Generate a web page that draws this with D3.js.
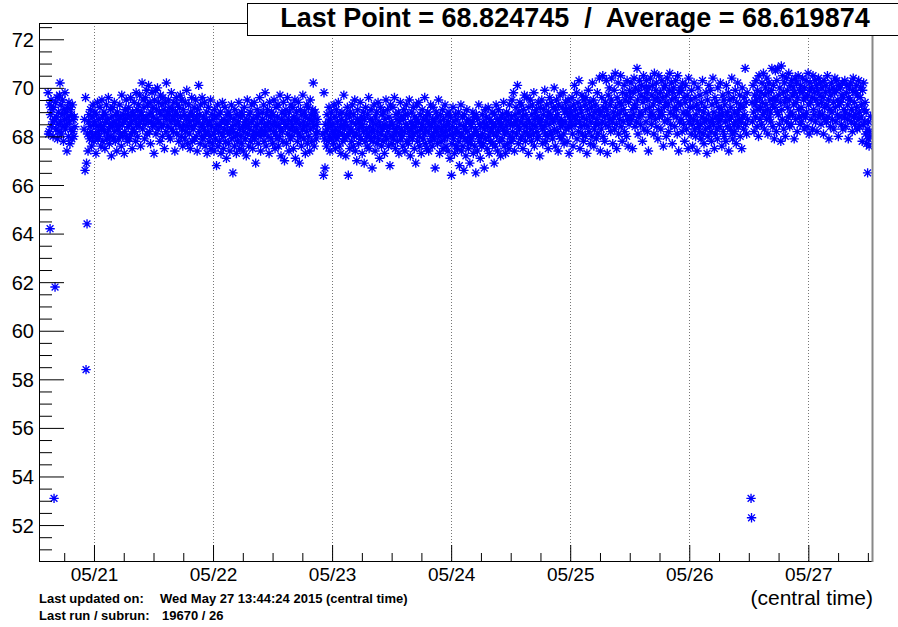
<!DOCTYPE html>
<html><head><meta charset="utf-8">
<script src="https://cdn.jsdelivr.net/npm/d3@7"></script>
<style>
html,body{margin:0;padding:0;background:#fff;}
svg{display:block;font-family:"Liberation Sans",Arial,Helvetica,sans-serif;}
</style></head><body>
<svg id="chart" width="898" height="627"></svg>
<script>
// Readings are logged every 6 minutes; each run of readings has its own start time (central time).
const stepMinutes = 6;
const segmentStarts = ["2015-05-20T14:45", "2015-05-20T22:00", "2015-05-22T22:10", "2015-05-26T12:27"];

const segA = [
69.8,68.1,68.2,69.3,64.2,68.9,69.5,68.4,69.1,68.6,
68.0,69.2,53.1,68.7,61.8,69.4,68.3,68.8,69.6,67.9,
68.5,69.0,68.2,69.7,70.2,68.6,69.3,68.1,68.9,69.5,
68.4,67.8,69.1,68.7,69.8,68.3,69.0,68.5,67.4,69.2,
68.8,68.0,69.4,68.6,67.7,69.1,68.3,68.9,67.9,69.3,
68.2,68.7,68.0,68.8,68.4];

const segB = [
68.3,68.7,66.6,69.6,58.4,66.9,64.4,68.1,67.4,68.6,
68.9,67.9,68.4,69.1,68.2,67.6,68.8,68.0,69.3,68.5,
67.8,68.6,69.0,68.1,67.3,68.9,68.4,69.4,67.9,68.2,
68.7,68.0,69.2,68.5,67.6,68.3,69.5,68.8,67.8,68.4,
69.0,68.2,67.5,68.9,68.6,69.3,67.9,68.1,68.7,69.6,
68.3,67.7,68.5,69.1,68.0,67.2,68.8,68.4,69.2,67.9,
68.6,69.4,68.2,67.8,68.9,68.5,67.4,69.0,68.3,68.7,
67.9,68.4,69.3,68.1,68.8,67.6,69.7,68.5,68.0,68.9,
68.6,67.3,68.2,69.1,68.7,69.5,68.0,67.8,68.9,68.4,
69.2,68.5,67.9,68.8,69.6,68.1,68.6,67.5,69.0,68.3,
68.9,69.4,68.2,68.7,67.8,69.8,68.5,69.1,68.0,68.8,
69.3,68.4,69.7,68.6,67.6,69.0,68.9,70.2,68.3,69.5,
68.7,69.2,67.9,68.5,69.6,68.8,69.9,68.1,69.3,68.6,
70.1,68.9,68.2,69.4,67.7,69.0,68.6,69.8,68.4,69.2,
68.8,67.3,69.5,68.5,69.9,68.1,69.1,68.7,70.0,68.3,
69.4,68.6,69.0,67.8,69.7,68.9,68.4,69.3,68.0,69.6,
68.5,69.1,67.5,68.8,69.4,68.2,70.2,68.7,69.0,68.4,
69.5,68.0,68.9,69.2,67.9,68.6,69.8,68.3,69.1,68.8,
68.2,69.4,68.7,67.4,69.0,68.5,69.6,68.1,68.9,69.3,
68.6,67.8,69.2,68.4,69.7,68.8,68.0,69.5,68.3,67.6,
69.1,68.5,68.9,67.9,69.4,68.2,68.7,69.9,68.4,67.7,
68.8,69.3,68.1,68.6,67.5,69.0,68.4,69.6,67.8,68.9,
68.3,68.7,69.2,67.9,68.5,69.5,68.0,68.8,67.4,69.1,
68.6,70.1,68.2,68.9,67.7,69.3,68.4,68.0,69.6,68.5,
67.9,68.8,68.3,69.4,67.6,68.1,68.7,69.0,67.3,68.5,
68.2,69.2,67.8,68.6,68.0,69.5,67.5,68.4,68.9,67.7,
68.7,68.1,67.4,69.1,68.3,67.9,68.8,66.8,68.5,69.3,
67.6,68.2,68.9,67.8,68.4,69.0,67.3,68.6,68.1,69.4,
68.0,67.5,68.7,68.3,69.2,67.8,68.5,67.1,68.9,68.2,
68.6,67.7,69.0,68.1,67.4,68.8,68.3,69.3,67.9,68.4,
66.5,68.2,68.7,67.6,69.1,68.0,68.5,67.3,68.9,68.1,
67.8,68.6,69.4,68.3,67.5,68.8,68.0,69.0,67.7,68.4,
68.9,67.4,68.2,69.2,68.6,67.9,68.4,67.2,68.7,69.5,
68.1,68.5,67.6,68.9,68.3,69.0,67.8,68.6,69.3,68.0,
67.5,68.7,68.2,69.4,67.9,68.4,66.9,68.8,68.1,69.1,
68.5,67.7,68.9,68.2,69.6,68.0,67.4,68.6,68.3,69.0,
68.7,68.1,69.3,67.8,68.5,69.8,68.2,67.6,68.9,68.4,
69.1,68.0,68.6,67.3,69.4,68.3,68.8,67.9,69.0,68.5,
67.7,68.9,68.2,69.5,68.6,67.5,68.1,69.2,68.4,67.9,
68.8,69.3,67.6,68.5,68.0,69.7,68.3,67.2,68.7,69.0,
68.2,67.8,69.4,68.6,67.0,68.9,68.4,69.1,67.7,68.5,
69.6,68.1,68.7,67.4,69.0,68.3,67.9,69.3,68.6,68.0,
68.4,69.2,67.5,68.8,68.2,69.5,67.1,68.6,69.0,68.3,
67.8,68.7,69.4,68.1,66.9,68.5,69.1,68.0,67.6,68.9,
68.3,69.7,68.6,67.9,68.4,69.0,67.3,68.8,68.2,69.3,
67.7,68.5,69.2,68.0,68.7,67.4,69.5,68.3,68.9,67.8,
68.6,69.1,70.2,68.4,67.6,68.8,69.0,68.1,67.9,68.5,
68.7,68.2];

const segC = [
68.1,66.4,69.8,67.9,66.7,68.5,68.2,67.6,68.9,68.3,
67.8,68.6,69.2,68.0,67.4,68.7,68.4,69.0,67.9,68.2,
68.5,67.7,69.3,68.1,68.8,67.5,68.3,69.1,67.9,68.6,
68.0,69.4,68.2,67.6,68.9,68.4,67.3,68.7,69.0,68.1,
67.8,68.5,69.7,68.3,67.9,68.6,67.2,68.9,68.0,69.2,
68.4,66.4,68.1,68.8,67.5,69.0,68.3,67.8,68.6,69.3,
68.2,67.6,68.9,68.0,69.5,67.4,68.5,68.1,67.0,68.7,
69.1,68.3,67.7,68.6,68.0,69.4,67.9,68.4,68.8,67.3,
68.5,69.0,68.2,66.9,68.7,67.8,69.2,68.3,68.0,67.6,
68.9,68.1,69.6,67.5,68.4,68.7,67.9,69.1,68.2,66.7,
68.6,67.8,68.3,69.3,68.0,67.4,68.8,68.5,69.0,67.7,
68.2,69.4,67.9,68.6,67.1,68.4,69.2,68.1,67.6,68.9,
68.3,67.8,69.0,68.5,67.3,68.7,68.0,69.5,67.9,68.4,
69.1,68.2,67.6,68.8,68.4,66.8,69.3,68.0,68.6,67.7,
68.5,69.2,67.9,68.1,69.6,68.3,67.5,68.9,68.2,68.7,
67.8,68.4,69.0,67.3,68.6,68.1,69.4,67.9,68.3,68.8,
68.0,67.6,68.7,69.1,68.2,67.4,68.9,68.5,69.3,67.8,
68.4,68.9,67.7,68.2,69.5,68.0,67.2,68.6,68.3,69.0,
67.9,68.5,69.2,68.1,67.5,68.8,68.4,66.9,68.7,69.3,
68.2,67.8,68.6,69.4,68.0,67.6,68.9,68.3,67.3,68.5,
69.1,68.4,67.9,68.7,68.1,69.6,67.7,68.3,68.8,67.5,
68.6,69.0,68.2,67.4,68.9,68.5,67.8,69.3,68.0,68.4,
67.6,68.7,69.2,68.1,67.9,68.6,66.7,68.3,69.0,68.2,
68.8,67.7,68.4,69.5,68.0,67.3,68.6,68.9,67.8,68.3,
68.1,69.1,67.5,68.7,68.4,67.9,69.3,68.2,67.6,68.5,
68.9,68.0,67.4,68.6,69.0,68.3,67.1,68.8,68.1,66.4,
67.7,68.4,69.2,67.9,68.6,67.3,68.1,68.9,67.6,68.3,
68.7,67.5,68.2,69.0,67.8,66.8,68.5,68.0,69.3,67.4,
68.1,68.8,67.6,68.4,66.6,68.9,67.9,68.3,67.2,68.6,
69.1,67.8,68.2,67.5,68.7,68.0,66.9,68.5,67.7,68.4,
67.9,68.6,69.0,67.3,68.1,68.8,67.6,68.3,66.5,68.9,
68.2,67.4,68.7,68.0,69.3,67.8,68.5,67.1,68.4,68.0,
67.6,68.9,68.1,67.7,68.6,66.7,68.3,69.1,67.9,68.5,
68.8,67.5,68.4,69.2,68.0,67.3,68.7,68.2,67.8,68.6,
68.3,69.0,67.7,68.5,68.1,66.9,68.9,67.6,68.4,69.3,
68.0,68.7,67.4,68.2,69.1,68.6,67.8,68.4,67.2,68.8,
68.5,67.9,68.9,68.3,69.4,67.6,68.1,68.7,67.3,68.4,
69.0,68.2,67.7,68.6,68.9,67.5,69.3,68.0,68.5,67.8,
68.8,69.5,68.2,67.9,69.8,68.5,67.4,68.9,68.6,69.2,
68.1,68.7,70.1,68.4,67.7,69.0,68.3,69.4,67.9,68.6,
69.3,68.0,68.8,67.5,69.1,68.5,69.7,68.2,67.8,68.9,
68.4,69.6,68.1,68.7,67.3,69.2,68.6,68.0,69.5,68.3,
67.8,68.9,69.3,68.5,68.1,69.8,67.6,68.7,69.0,68.4,
69.1,68.2,67.9,68.8,69.4,68.0,68.6,67.2,69.2,68.5,
68.7,69.5,68.3,67.7,68.9,69.1,68.4,69.9,68.1,67.8,
68.6,69.3,68.0,68.8,67.5,69.0,68.5,69.6,68.2,68.9,
69.4,68.1,68.7,67.9,69.2,68.6,70.0,68.3,67.6,69.1,
68.8,69.5,68.2,68.9,67.4,69.3,68.6,68.0,69.7,68.4,
67.9,68.7,69.2,68.5,69.8,68.1,67.7,69.0,68.6,69.4,
68.3,69.1,67.8,68.9,69.5,68.4,67.3,68.8,69.2,68.6,
69.0,68.4,69.6,68.1,67.6,69.3,68.8,70.1,68.5,69.1,
68.7,69.8,67.9,68.9,69.4,68.2,70.3,68.6,67.5,69.2,
68.4,69.0,69.7,68.1,68.8,67.8,69.5,68.5,69.3,68.0,
69.6,68.7,67.3,69.1,68.4,69.9,68.2,68.9,69.4,67.7,
68.6,69.2,68.0,70.2,68.8,69.5,67.6,68.3,69.0,68.5,
69.3,67.9,68.7,69.8,68.1,69.1,68.5,70.4,68.9,67.4,
69.0,68.3,69.6,68.6,70.5,68.0,69.2,68.8,67.8,69.4,
68.5,70.3,69.1,67.3,68.9,69.7,68.4,70.0,68.7,69.3,
68.2,69.5,70.4,68.6,67.7,69.0,68.8,69.9,68.3,70.6,
69.2,68.5,67.5,69.6,68.9,70.2,68.1,69.4,68.7,69.0,
70.5,68.4,69.3,67.8,69.8,68.6,69.1,70.1,68.2,69.5,
68.9,69.7,68.0,70.3,68.7,67.6,69.4,68.5,69.9,68.8,
69.6,70.2,68.7,69.1,67.5,69.8,68.9,70.4,69.3,68.4,
70.0,69.2,68.6,70.8,69.5,68.1,69.9,68.8,70.3,69.0,
68.5,69.7,70.1,68.9,67.8,69.4,70.5,68.3,69.6,70.0,
69.1,68.6,70.3,69.8,68.2,69.5,67.4,70.0,69.2,68.8,
70.4,69.0,68.5,69.7,70.1,68.9,69.3,68.1,70.6,69.5,
68.7,69.9,70.2,68.4,69.6,67.9,69.1,70.5,68.8,69.4,
69.8,68.3,69.0,70.3,68.9,69.6,67.6,70.0,69.2,68.6,
70.1,69.4,68.0,69.7,70.4,68.7,69.3,68.2,69.9,70.6,
69.0,68.5,70.2,69.5,67.7,69.8,68.9,70.0,69.2,68.4,
69.6,70.3,68.8,69.1,68.1,70.5,69.4,67.4,69.8,68.6,
70.0,69.3,68.7,69.9,68.2,70.2,69.0,68.5,69.6,67.8,
69.4,70.1,68.9,68.3,69.7,69.0,67.5,70.4,68.6,69.2,
68.8,69.5,68.1,69.9,68.5,67.6,69.2,68.7,70.2,68.3,
69.6,68.0,68.9,69.3,67.4,68.6,70.0,68.4,69.1,68.2,
69.7,68.5,67.9,69.4,68.8,70.3,68.1,69.0,67.7,68.6,
69.2,68.3,69.8,68.7,67.3,69.5,68.0,68.9,70.1,68.4,
68.6,69.9,68.2,67.8,69.3,68.7,70.4,68.5,69.0,67.5,
69.6,68.1,68.8,69.4,68.3,67.9,70.0,68.6,69.2,68.9,
68.4,70.2,68.7,69.1,67.6,68.9,69.7,68.2,69.5,68.0,
69.3,68.6,67.8,70.1,68.9,69.0,68.4,69.8,67.4,68.7,
69.5,68.3,69.2,68.8,70.4,68.1,67.9,69.6,68.5,69.0,
68.2,69.9,68.6,67.7,69.4,68.9,70.2,68.4,69.1,68.7,
69.7,68.0,69.3,68.6,67.5,70.0,68.8,69.2,68.3,69.6,
68.9,70.8,68.5,69.4,68.1,69.8,68.7];

const segD = [
53.1,52.3,69.4,68.6,70.1,69.0,68.2,69.7,69.3,68.8,
70.3,69.5,68.4,69.9,69.1,68.0,70.5,69.6,68.7,69.2,
69.8,68.5,70.2,69.4,68.9,70.6,69.0,68.3,69.7,70.0,
69.3,68.7,70.4,69.1,68.1,69.8,70.2,68.8,69.5,69.0,
68.6,69.9,70.8,69.3,68.4,70.1,69.6,67.9,69.2,70.7,
69.5,68.2,70.3,69.0,70.8,68.9,69.7,68.5,70.0,69.4,
67.8,70.9,69.1,68.7,70.5,69.8,68.3,70.2,69.4,68.0,
69.6,70.4,68.6,69.9,69.2,68.8,70.6,69.5,68.4,70.1,
69.0,68.5,70.3,69.7,68.9,70.0,69.3,67.9,69.8,70.4,
68.7,69.4,70.2,68.2,69.6,70.5,69.1,68.8,69.9,68.5,
70.1,69.2,68.6,69.8,70.4,68.9,69.5,68.3,70.0,69.6,
68.8,70.3,69.0,68.4,69.7,70.6,69.3,68.1,69.9,70.2,
69.4,68.7,70.0,69.6,68.3,70.5,69.1,68.9,69.8,70.3,
68.6,69.5,70.1,68.2,69.9,69.3,70.4,68.8,69.0,69.7,
70.2,68.5,69.4,70.0,68.9,69.6,68.1,70.3,69.2,68.7,
69.8,70.1,68.6,69.3,70.5,68.8,69.5,67.9,69.9,69.1,
68.4,69.7,70.2,69.0,68.7,70.0,69.4,68.3,69.8,70.4,
69.2,68.6,69.9,70.3,68.9,69.5,68.0,70.1,69.3,68.8,
70.0,69.4,68.5,69.7,70.2,68.3,69.6,69.1,68.8,70.3,
69.0,68.4,69.8,70.1,68.7,69.3,67.9,69.6,70.0,68.9,
69.5,70.2,68.6,69.1,68.2,69.9,70.4,68.8,69.4,68.5,
69.8,68.9,70.1,69.2,68.3,69.7,68.7,70.3,69.0,68.4,
69.6,70.0,68.8,69.3,67.8,69.9,68.5,70.2,69.1,68.6,
69.4,68.1,69.0,67.7,68.3,66.5,67.9,68.6,67.6,68.2,
68.0,68.824745];

// Axis tick values
const yMajorTicks = [52, 54, 56, 58, 60, 62, 64, 66, 68, 70, 72];
const yMinorStep = 0.5;
const xTickFormat = "%m/%d";

const averageText = "68.619874";
const footerLines = [
  ["Last updated on:", "Wed May 27 13:44:24 2015 (central time)"],
  ["Last run / subrun:", "19670 / 26"]
];
const xAxisTitle = "(central time)";

// ---- layout ----
const frame = {left: 39, right: 872, top: 23, bottom: 561};
const parse = d3.utcParse("%Y-%m-%dT%H:%M");
const svg = d3.select("#chart");

const x = d3.scaleUtc()
  .domain([parse("2015-05-20T12:55"), parse("2015-05-27T12:50")])
  .range([frame.left, frame.right]);
const y = d3.scaleLinear()
  .domain([50.52, 72.67])
  .range([frame.bottom, frame.top]);

const points = [];
[segA, segB, segC, segD].forEach((vals, s) => {
  const t0 = parse(segmentStarts[s]);
  vals.forEach((v, i) => points.push({t: d3.utcMinute.offset(t0, i * stepMinutes), v}));
});

const dayTicks = x.ticks(d3.utcDay.every(1));
const sixHourTicks = x.ticks(d3.utcHour.every(6)).filter(d => d.getUTCHours() !== 0);
const yMinor = d3.range(51, 72.6, yMinorStep).filter(v => !yMajorTicks.includes(v));

// dotted vertical grid at each day
svg.append("g").selectAll("line").data(dayTicks).join("line")
  .attr("x1", d => Math.round(x(d)) + 0.5).attr("x2", d => Math.round(x(d)) + 0.5)
  .attr("y1", frame.top).attr("y2", frame.bottom)
  .attr("stroke", "#777").attr("stroke-width", 1).attr("stroke-dasharray", "1,2");

// markers (asterisks), clipped to the frame
svg.append("clipPath").attr("id", "clip").append("rect")
  .attr("x", frame.left).attr("y", frame.top)
  .attr("width", frame.right - frame.left).attr("height", frame.bottom - frame.top);
const star = "M-4.7,0H4.7M0,-4.7V4.7M-3.4,-3.4L3.4,3.4M-3.4,3.4L3.4,-3.4";
svg.append("g").attr("clip-path", "url(#clip)")
  .selectAll("path").data(points).join("path")
  .attr("transform", d => `translate(${x(d.t)},${y(d.v)})`)
  .attr("d", star).attr("fill", "none").attr("stroke", "#0000ff").attr("stroke-width", 1.35);

// axes
function styleAxis(g) {
  g.attr("font-size", null).attr("font-family", null);
  g.select(".domain").remove();
  g.selectAll(".tick line").attr("stroke", "#000");
  g.selectAll("text").attr("fill", "#000");
}
const gx = svg.append("g").attr("transform", `translate(0,${frame.bottom})`)
  .call(d3.axisBottom(x).tickValues(dayTicks).tickSizeInner(-16).tickSizeOuter(0)
    .tickPadding(6).tickFormat(d3.utcFormat(xTickFormat)))
  .call(styleAxis);
gx.selectAll("text").attr("font-size", 19).attr("dy", null).attr("y", 20);
svg.append("g").attr("transform", `translate(0,${frame.bottom})`)
  .call(d3.axisBottom(x).tickValues(sixHourTicks).tickSizeInner(-8).tickSizeOuter(0).tickFormat(""))
  .call(styleAxis);

const gy = svg.append("g").attr("transform", `translate(${frame.left},0)`)
  .call(d3.axisLeft(y).tickValues(yMajorTicks).tickSizeInner(-25).tickSizeOuter(0).tickPadding(5))
  .call(styleAxis);
gy.selectAll("text").attr("font-size", 20).attr("dy", "0.35em");
svg.append("g").attr("transform", `translate(${frame.left},0)`)
  .call(d3.axisLeft(y).tickValues(yMinor).tickSizeInner(-13).tickSizeOuter(0).tickFormat(""))
  .call(styleAxis);

// frame
svg.append("line").attr("x1", frame.left + 0.5).attr("x2", frame.left + 0.5)
  .attr("y1", frame.top).attr("y2", frame.bottom + 1).attr("stroke", "#000");
svg.append("line").attr("x1", frame.left).attr("x2", frame.right)
  .attr("y1", frame.bottom + 0.5).attr("y2", frame.bottom + 0.5).attr("stroke", "#000");
svg.append("line").attr("x1", frame.left).attr("x2", frame.right)
  .attr("y1", frame.top + 0.5).attr("y2", frame.top + 0.5).attr("stroke", "#000");
svg.append("line").attr("x1", frame.right + 0.5).attr("x2", frame.right + 0.5)
  .attr("y1", frame.top).attr("y2", frame.bottom + 1).attr("stroke", "#888").attr("stroke-width", 2);

// axis title
svg.append("text").attr("x", 873).attr("y", 605).attr("text-anchor", "end")
  .attr("font-size", 21).text(xAxisTitle);

// title box
const lastValue = points[points.length - 1].v;
svg.append("rect").attr("x", 247.5).attr("y", 3.5).attr("width", 652).attr("height", 32)
  .attr("fill", "#fff").attr("stroke", "#000").attr("stroke-width", 1);
svg.append("text").attr("x", 575).attr("y", 27).attr("text-anchor", "middle")
  .attr("font-size", 27).attr("font-weight", "bold").style("white-space", "pre")
  .text(`Last Point = ${lastValue.toFixed(6)}  /  Average = ${averageText}`);

// footer
const footer = svg.append("g").attr("font-size", 13).attr("font-weight", "bold");
footerLines.forEach((row, i) => {
  footer.append("text").attr("x", 39).attr("y", 603 + i * 17).text(row[0]);
  footer.append("text").attr("x", i === 0 ? 160 : 162).attr("y", 603 + i * 17).text(row[1]);
});
</script>
</body></html>
